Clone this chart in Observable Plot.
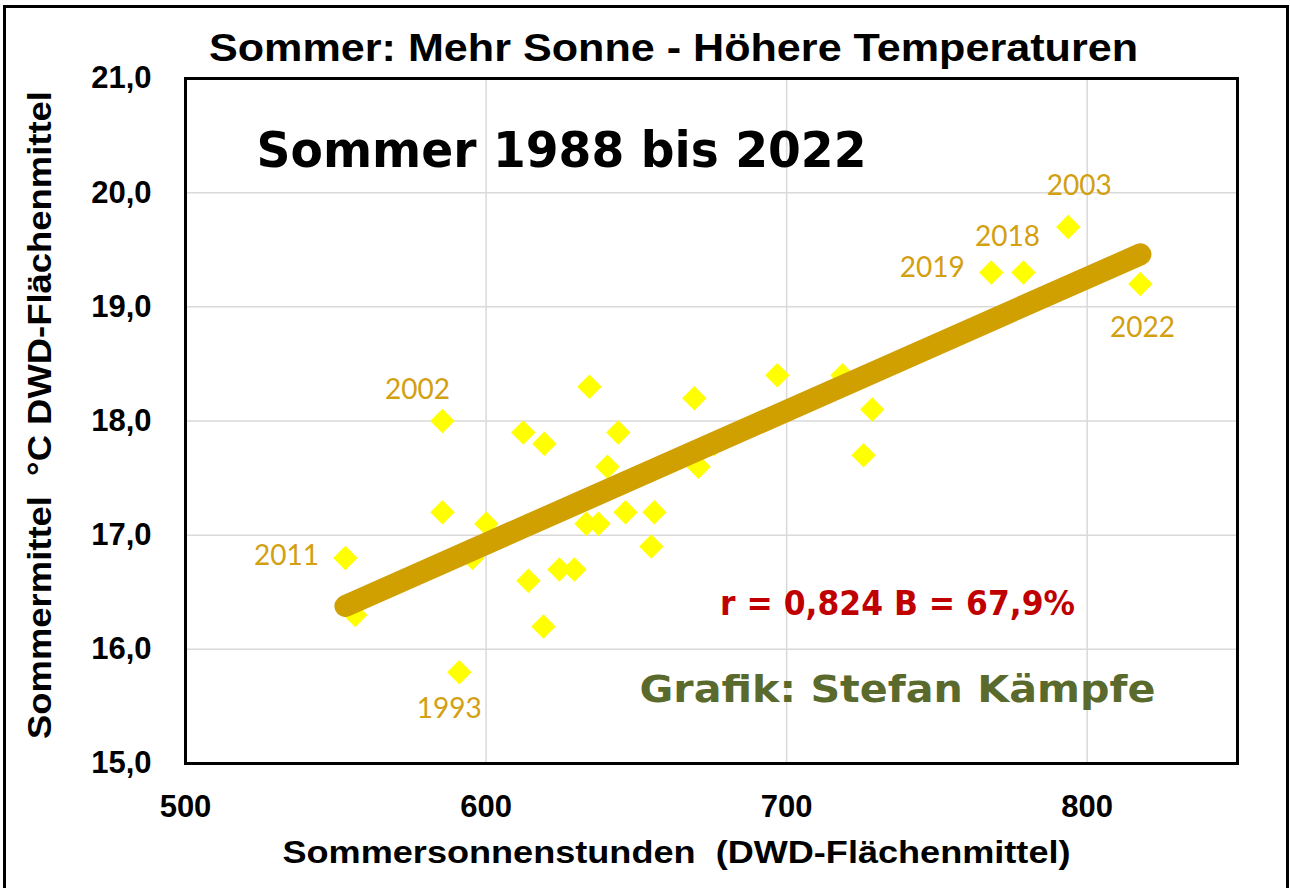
<!DOCTYPE html>
<html>
<head>
<meta charset="utf-8">
<script src="https://cdn.jsdelivr.net/npm/d3@7"></script>
<script src="https://cdn.jsdelivr.net/npm/@observablehq/plot@0.6"></script>
<style>
  html, body { margin: 0; padding: 0; background: #fff; }
  #wrap { position: relative; width: 1290px; height: 888px; overflow: hidden; }
  #border { position: absolute; left: 3px; top: 5px; width: 1280px; height: 890px; border: 3px solid #000; }
  #chart { position: absolute; left: 0; top: 0; }
</style>
</head>
<body>
<div id="wrap"><div id="border"></div><div id="chart"></div></div>
<script>
// ---- data ----
const sun  = [553.2, 556.5, 585.5, 585.5, 600.1, 595.5, 591.1, 612.4, 619.4, 614.1, 619.1, 634.4, 640.4, 624.4, 629.4, 633.4, 637.4, 646.4, 656.0, 655.0, 644.0, 669.3, 670.7, 696.9, 718.6, 728.5, 725.6, 768.1, 778.8, 793.7, 817.7, 676.0];
const temp = [16.8, 16.3, 18.0, 17.2, 17.1, 16.8, 15.8, 17.9, 17.8, 16.6, 16.2, 18.3, 17.6, 16.7, 16.7, 17.1, 17.1, 17.2, 17.2, 16.9, 17.9, 18.2, 17.6, 18.4, 18.4, 18.1, 17.7, 19.3, 19.3, 19.7, 19.2, 17.8];
const trendSun  = [553.2, 817.7];
const trendTemp = [16.38, 19.46];
const labelYears = ["2003", "2018", "2019", "2022", "2002", "2011", "1993"];
const labelSun   = [793.7, 778.8, 768.1, 817.7, 585.5, 553.2, 591.1];
const labelTemp  = [19.7, 19.3, 19.3, 19.2, 18.0, 16.8, 15.8];
const xTicks = [500, 600, 700, 800];
const yTicks = [15, 16, 17, 18, 19, 20, 21];
const titleText = "Sommer: Mehr Sonne - Höhere Temperaturen";
const subTitleText = "Sommer 1988 bis 2022";
const statText = "r = 0,824 B = 67,9%";
const creditText = "Grafik: Stefan Kämpfe";
const xLabelText = "Sommersonnenstunden  (DWD-Flächenmittel)";
const yLabelText = "Sommermittel  °C DWD-Flächenmittel";

// ---- build ----
const points = sun.map((s, i) => ({sun: s, temp: temp[i]}));
const trend = trendSun.map((s, i) => ({sun: s, temp: trendTemp[i]}));
const labels = labelYears.map((y, i) => ({year: y, sun: labelSun[i], temp: labelTemp[i]}));
const labelOffsets = {
  "2003": [11, -41], "2018": [-16, -36], "2019": [-59, -5], "2022": [2, 44],
  "2002": [-25, -31], "2011": [-59, -2], "1993": [-10, 37]
};
const gold = "#d0a000";
const fmt = d => d.toFixed(1).replace(".", ",");

const labelMarks = labels.map(l => Plot.text([l], {
  x: "sun", y: "temp", text: "year",
  dx: labelOffsets[l.year][0], dy: labelOffsets[l.year][1],
  fill: "#d2a010", fontFamily: "Lato", fontWeight: "normal", fontSize: 28
}));

const txt = (s, o) => Plot.text([s], {text: d => d, textAnchor: "middle", lineAnchor: "middle", fontWeight: "bold", ...o});

const chart = Plot.plot({
  width: 1290, height: 888,
  marginLeft: 185, marginRight: 53, marginTop: 78, marginBottom: 125,
  style: {fontFamily: "Liberation Sans, Arial, sans-serif", fontWeight: "bold", fontSize: "31px", color: "#000", background: "transparent"},
  x: {domain: [500, 850], ticks: xTicks, tickSize: 0, tickPadding: 31, label: null, tickFormat: d => String(d)},
  y: {domain: [15, 21], ticks: yTicks, tickSize: 0, tickPadding: 34, label: null, tickFormat: fmt},
  marks: [
    Plot.gridX(xTicks.slice(1), {stroke: "#d9d9d9", strokeOpacity: 1, strokeWidth: 1.5}),
    Plot.gridY(yTicks.slice(1, -1), {stroke: "#d9d9d9", strokeOpacity: 1, strokeWidth: 1.5}),
    Plot.dot(points, {x: "sun", y: "temp", symbol: "diamond2", r: 11, fill: "#ffff00", stroke: null}),
    Plot.line(trend, {x: "sun", y: "temp", stroke: gold, strokeWidth: 22, strokeLinecap: "round"}),
    ...labelMarks,
    Plot.frame({stroke: "#000", strokeWidth: 3}),
    txt(titleText, {frameAnchor: "top", dx: -38, dy: -30, fontSize: 38, fontFamily: "Liberation Sans", fill: "#000"}),
    txt(subTitleText, {frameAnchor: "top-left", dx: 376, dy: 72, fontSize: 50, fontFamily: "DejaVu Sans", fill: "#000"}),
    txt(statText, {frameAnchor: "top-left", dx: 712, dy: 526, fontSize: 33, fontFamily: "DejaVu Sans", fill: "#c00000"}),
    txt(creditText, {frameAnchor: "top-left", dx: 712, dy: 611, fontSize: 38, fontFamily: "DejaVu Sans", fill: "#5a6a2c"}),
    txt(xLabelText, {frameAnchor: "bottom", dx: -35, dy: 89, fontSize: 32, fontFamily: "Liberation Sans", fill: "#000"}),
    txt(yLabelText, {frameAnchor: "left", dx: -145, dy: -6, rotate: -90, fontSize: 33, fontFamily: "Liberation Sans", fill: "#000"})
  ]
});

// fit long texts to the measured widths of the reference
const lengths = new Map([
  [titleText, 929], [subTitleText, 610], [statText, 355], [creditText, 516],
  [xLabelText, 788], [yLabelText, 648]
]);
d3.select(chart).selectAll("text").each(function() {
  const t = this.textContent;
  if (lengths.has(t)) {
    d3.select(this).attr("textLength", lengths.get(t)).attr("lengthAdjust", "spacingAndGlyphs");
  }
});
document.getElementById("chart").appendChild(chart);
</script>
</body>
</html>
